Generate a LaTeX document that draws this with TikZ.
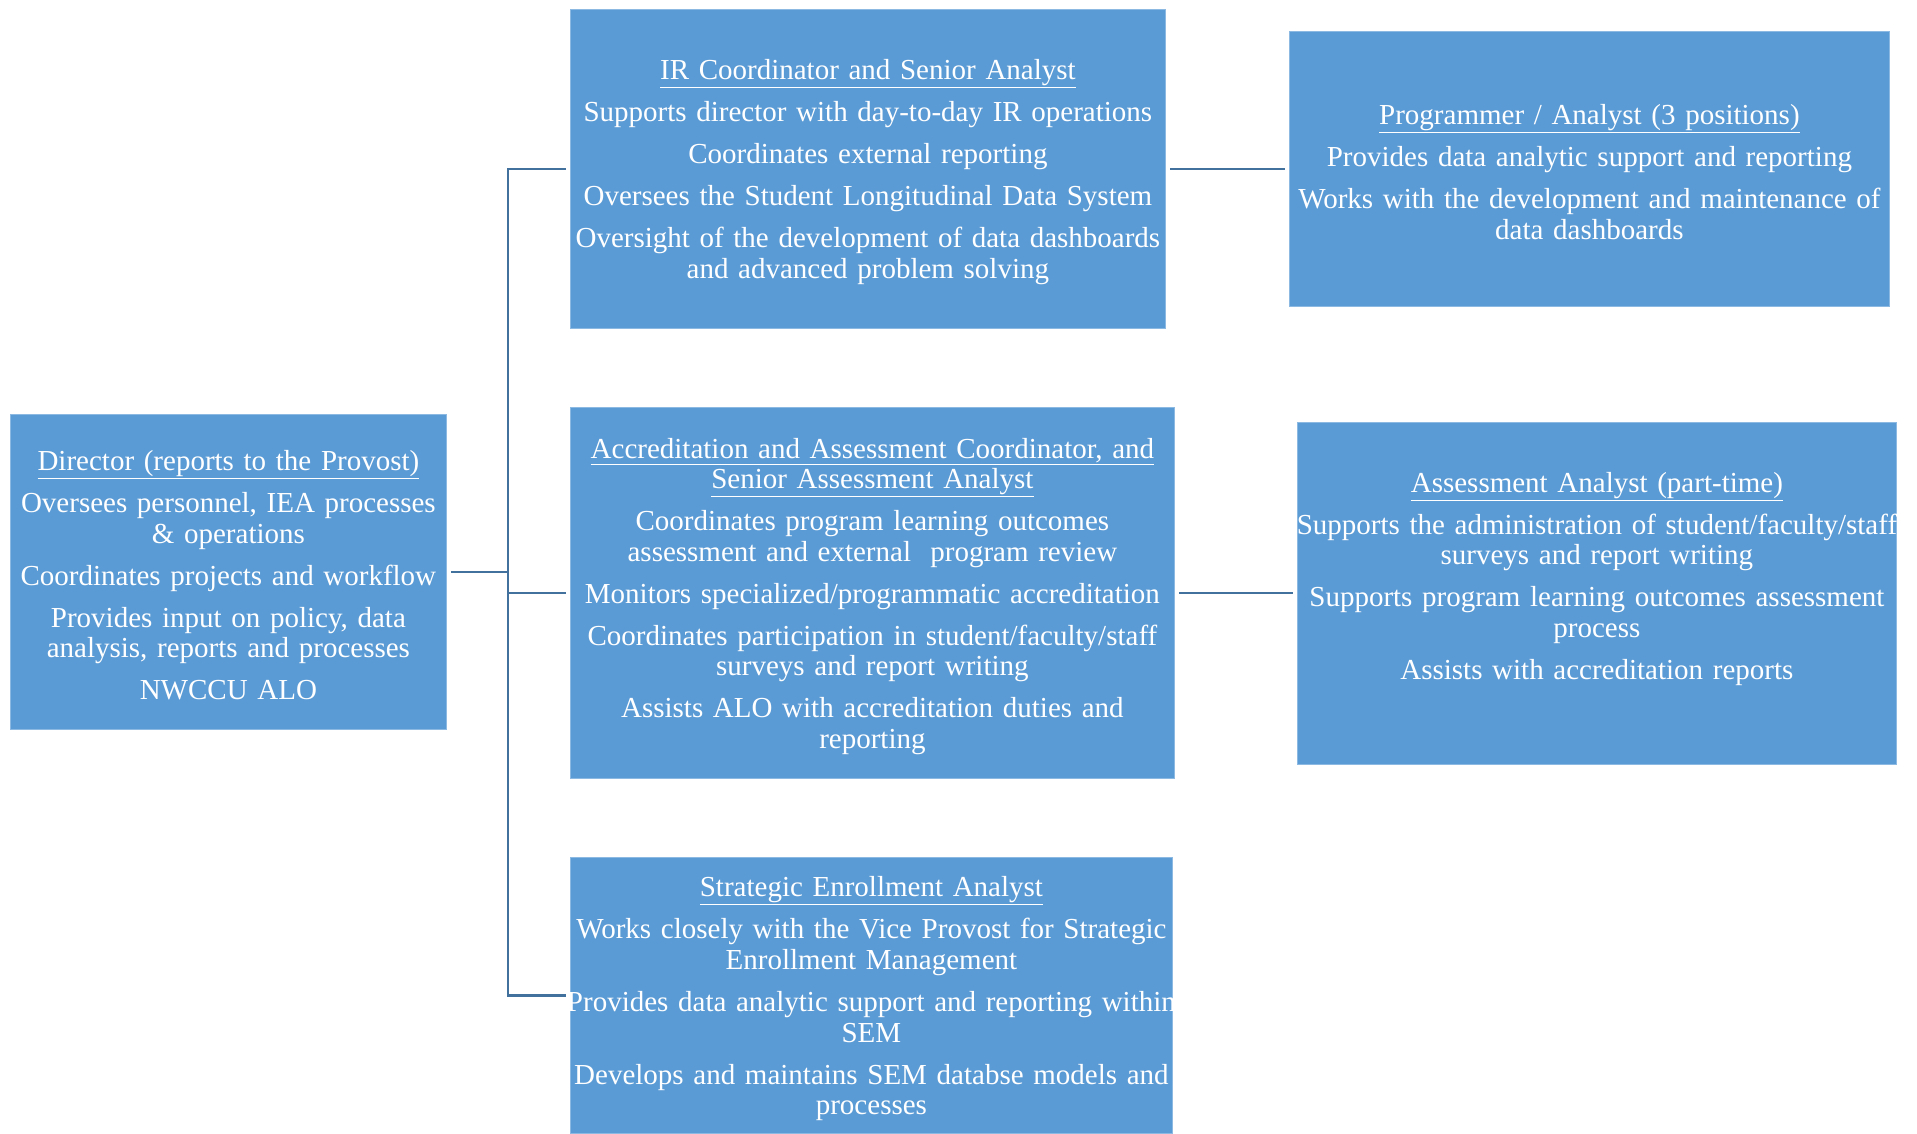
\documentclass[tikz,border=0pt]{standalone}
\usepackage{fontspec}
\setmainfont{Liberation Serif}
\definecolor{boxblue}{HTML}{5B9BD5}
\definecolor{linkblue}{HTML}{41719C}
\tikzset{
  rolebox/.style={fill=boxblue, draw=boxblue!70!white, line width=0.8pt, text=white,
    align=center, inner sep=0pt, anchor=north west,
    font=\fontsize{29pt}{30.6pt}\selectfont},
  link/.style={draw=linkblue, line width=2.6pt}
}
\newcommand{\gap}{\\[11.4pt]}
\newcommand{\wideline}[1]{\makebox[0pt]{#1}}
\newcommand{\roletitle}[1]{\rule{0pt}{27pt}\underline{#1}}
\begin{document}
\begin{tikzpicture}[x=1pt, y=-1pt]
  \useasboundingbox (0,0) rectangle (1917,1133);
  % director
  \node[rolebox, text width=436pt, minimum height=315pt] (director) at (10,414)
    {\roletitle{Director (reports to the Provost)}\gap
     Oversees personnel, IEA processes\\ \& operations\gap
     Coordinates projects and workflow\gap
     Provides input on policy, data\\ analysis, reports and processes\gap
     NWCCU ALO};
  % middle column
  \node[rolebox, text width=595pt, minimum height=319pt] (ir) at (570,9)
    {\roletitle{IR Coordinator and Senior Analyst}\gap
     Supports director with day-to-day IR operations\gap
     Coordinates external reporting\gap
     Oversees the Student Longitudinal Data System\gap
     Oversight of the development of data dashboards\\ and advanced problem solving};
  \node[rolebox, text width=604pt, minimum height=371pt] (accr) at (570,407)
    {\roletitle{Accreditation and Assessment Coordinator, and}\\ \underline{Senior Assessment Analyst}\gap
     Coordinates program learning outcomes\\ assessment and external\ \ program review\gap
     \wideline{Monitors specialized/programmatic accreditation}\gap
     Coordinates participation in student/faculty/staff\\ surveys and report writing\gap
     Assists ALO with accreditation duties and\\ reporting};
  \node[rolebox, text width=602pt, minimum height=276pt] (strat) at (570,857)
    {\roletitle{Strategic Enrollment Analyst}\gap
     \wideline{Works closely with the Vice Provost for Strategic}\\ Enrollment Management\gap
     \wideline{Provides data analytic support and reporting within}\\ SEM\gap
     \wideline{Develops and maintains SEM databse models and}\\ processes};
  % right column
  \node[rolebox, text width=600pt, minimum height=275pt] (prog) at (1289,31)
    {\roletitle{Programmer / Analyst (3 positions)}\gap
     Provides data analytic support and reporting\gap
     \wideline{Works with the development and maintenance of}\\ data dashboards};
  \node[rolebox, text width=599pt, minimum height=342pt] (assess) at (1297,422)
    {\roletitle{Assessment Analyst (part-time)}\gap
     \wideline{Supports the administration of student/faculty/staff}\\ surveys and report writing\gap
     \wideline{Supports program learning outcomes assessment}\\ process\gap
     Assists with accreditation reports\gap\mbox{}};
  % connectors
  \coordinate (hub) at ([xshift=61pt]director.east);
  \draw[link] ([xshift=4pt]director.east) -- (hub);
  \draw[link] (hub) |- ([xshift=-4pt]ir.west);
  \draw[link] (hub) |- ([xshift=-4pt]strat.west);
  \draw[link] (hub |- accr.west) -- ([xshift=-4pt]accr.west);
  \draw[link] ([xshift=4pt]ir.east) -- ([xshift=-4pt]prog.west);
  \draw[link] ([xshift=4pt]accr.east) -- ([xshift=-4pt]assess.west |- accr.east);
\end{tikzpicture}
\end{document}
